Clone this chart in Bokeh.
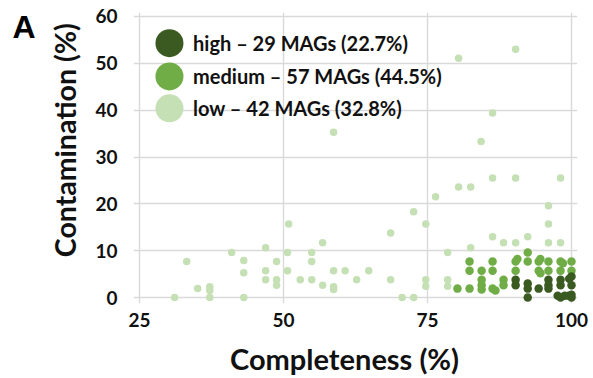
from bokeh.plotting import figure
from bokeh.models import Range1d, FixedTicker, Label, LinearAxis
from bokeh.embed import file_html
from bokeh.resources import INLINE

# Completeness / contamination of MAGs, grouped by quality tier
low_x = [31.1, 33.2, 35.1, 37.2, 37.2, 37.2, 41.0, 43.1, 43.1, 43.1,
         46.9, 46.9, 46.9, 48.8, 48.8, 48.8, 50.9, 50.7, 50.7, 52.9,
         54.9, 54.9, 54.9, 56.8, 56.8, 58.7, 58.7, 58.7, 58.7, 60.7,
         62.7, 64.8, 68.6, 68.6, 70.6, 72.6, 72.6, 74.7, 74.7, 74.7,
         76.4, 78.5, 78.5, 78.5, 80.4, 80.4, 82.5, 82.5, 84.3, 86.3,
         86.3, 86.3, 88.2, 90.3, 90.3, 90.3, 92.4, 96.0, 96.0, 96.0,
         98.1, 98.1]
low_y = [0.0, 7.7, 1.9, 2.3, 1.5, 0.0, 9.6, 7.9, 5.3, 0.0,
         10.6, 5.7, 3.8, 7.7, 3.8, 2.6, 15.7, 9.6, 5.7, 3.8,
         9.6, 7.7, 3.8, 11.7, 2.6, 35.3, 5.7, 2.3, 1.7, 5.7,
         3.8, 5.7, 13.8, 3.8, 0.0, 0.0, 18.3, 15.7, 3.8, 2.4,
         21.5, 9.6, 3.8, 2.4, 51.1, 23.6, 23.6, 10.6, 33.3, 39.4,
         25.5, 13.0, 11.7, 53.0, 25.5, 11.7, 13.0, 19.6, 15.7, 11.7,
         25.5, 11.7]

med_x = [80.2, 82.3, 82.3, 82.3, 84.4, 84.4, 84.4, 84.4, 86.3, 86.3,
         86.3, 86.8, 88.2, 88.2, 90.3, 90.6, 90.3, 92.4, 92.4, 94.3,
         94.6, 94.3, 94.6, 96.0, 96.0, 98.1, 98.5, 98.1, 100.0, 100.0]
med_y = [1.9, 1.9, 5.7, 7.7, 5.7, 3.8, 2.6, 1.7, 7.7, 5.7,
         1.9, 1.5, 3.8, 2.6, 7.7, 8.2, 5.7, 9.6, 7.7, 7.7,
         8.2, 5.7, 5.2, 7.7, 5.7, 7.7, 7.3, 5.7, 7.7, 5.7]

high_x = [90.3, 90.3, 92.4, 92.4, 92.4, 94.3, 96.0, 96.0, 96.0, 98.1,
          98.1, 98.1, 98.8, 97.6, 100.0, 99.6, 100.0, 100.0, 99.5, 100.0]
high_y = [3.8, 2.6, 3.0, 1.9, 0.0, 1.9, 3.8, 2.6, 1.9, 3.8,
          2.6, 0.0, 0.4, 0.4, 4.5, 4.0, 2.6, 0.0, 0.4, 0.6]

tiers = ["high \u2013 29 MAGs (22.7%)",
         "medium \u2013 57 MAGs (44.5%)",
         "low \u2013 42 MAGs (32.8%)"]
colors = ["#3a5a22", "#70ad47", "#c5e0b4"]

x_ticks = [25, 50, 75, 100]
y_ticks = [0, 10, 20, 30, 40, 50, 60]

FONT = "Lato"
INK = "#111111"

p = figure(width=593, height=378, output_backend="svg", toolbar_location=None,
           x_range=Range1d(23.9583, 101.0417), y_range=Range1d(-1.2766, 60.851),
           min_border_left=133, min_border_right=16,
           min_border_top=12, min_border_bottom=74)
p.outline_line_color = None
p.background_fill_color = "white"
p.border_fill_color = "white"

p.xaxis.ticker = FixedTicker(ticks=x_ticks)
p.yaxis.ticker = FixedTicker(ticks=y_ticks)
p.xgrid.bounds = (y_ticks[0], y_ticks[-1])
p.ygrid.bounds = (x_ticks[0], x_ticks[-1])
for g in (p.xgrid, p.ygrid):
    g.grid_line_color = "#d9d9d9"
    g.grid_line_width = 1.4


def bare(ax):
    ax.axis_line_color = None
    ax.major_tick_line_color = None
    ax.minor_tick_line_color = None
    ax.major_tick_out = 0
    ax.major_tick_in = 0


for ax in (p.xaxis[0], p.yaxis[0]):
    bare(ax)
    ax.major_label_text_font = FONT
    ax.major_label_text_font_style = "bold"
    ax.major_label_text_font_size = "19px"
    ax.major_label_text_color = INK

p.xaxis.major_label_standoff = 9
p.yaxis.major_label_standoff = 16


def text_axis(text, at, size, standoff, orientation=None):
    """A tick-less axis carrying a single text label at a given data position."""
    ax = LinearAxis(ticker=FixedTicker(ticks=[at]),
                    major_label_overrides={at: text})
    bare(ax)
    ax.major_label_standoff = standoff
    ax.major_label_text_font = FONT
    ax.major_label_text_font_style = "bold"
    ax.major_label_text_font_size = size
    ax.major_label_text_color = INK
    if orientation is not None:
        ax.major_label_orientation = orientation
    return ax


# axis titles
p.add_layout(text_axis("Completeness (%)", 60.6, "29px", 11), "below")
p.add_layout(text_axis("Contamination (%)", 33.6, "28.5px", 10, "parallel"), "left")

# panel letter
a_ax = text_axis("A", 57.8, "32px", 10, "horizontal")
a_ax.major_label_text_font = "Liberation Sans"
a_ax.major_label_text_color = "#000000"
p.add_layout(a_ax, "left")

p.scatter(low_x, low_y, size=7.5, color=colors[2], line_color=None)
p.scatter(med_x, med_y, size=8.5, color=colors[1], line_color=None)
p.scatter(high_x, high_y, size=8.5, color=colors[0], line_color=None)

# legend: big swatches with labels in the upper-left corner
leg_x = 30.2
leg_ys = [54.3, 47.2, 40.4]
p.scatter([leg_x] * 3, leg_ys, size=28, color=colors, line_color=None)
for txt, yy in zip(tiers, leg_ys):
    p.add_layout(Label(x=34.3, y=yy, text=txt, text_font=FONT,
                       text_font_style="bold", text_font_size="20px",
                       text_baseline="middle", text_color=INK))

open("out.html", "w").write(file_html(p, INLINE))
